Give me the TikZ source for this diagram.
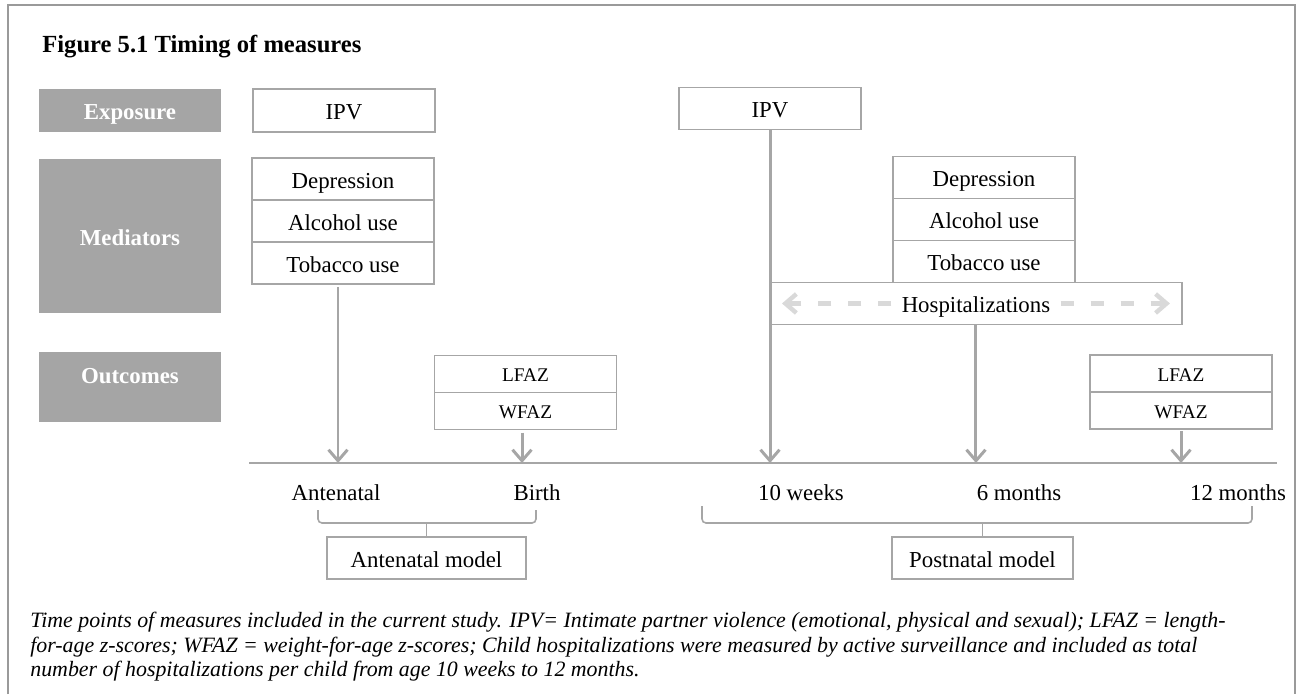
\documentclass[tikz,border=0pt]{standalone}
\usepackage{fontspec}
\setmainfont{Liberation Serif}
\usetikzlibrary{arrows.meta, positioning}
\definecolor{lblgray}{HTML}{A5A5A5}
\definecolor{lngray}{HTML}{A6A6A6}
\definecolor{dshgray}{HTML}{D9D9D9}
\definecolor{frmgray}{HTML}{9A9A9A}

\begin{document}
\begin{tikzpicture}[
  x=0.02cm, y=-0.02cm,
  >={Straight Barb[length=2.2mm, width=3.8mm]},
  lbl/.style={fill=lblgray, text=white, font=\fontsize{13}{15}\selectfont\bfseries,
    minimum width=3.64cm, inner sep=0pt, text height=12pt, text depth=1.7pt},
  mbox/.style={draw=lngray, line width=0.9pt, fill=white, minimum width=3.64cm,
    minimum height=0.84cm, inner sep=0pt, outer sep=0pt, font=\fontsize{13}{15}\selectfont,
    text height=12pt, text depth=1.7pt},
  zbox/.style={mbox, minimum height=0.74cm, font=\fontsize{11}{13}\selectfont,
    text height=10.5pt, text depth=1.5pt},
  tick/.style={font=\fontsize{13}{15}\selectfont, text height=12pt, text depth=1.7pt},
  arr/.style={->, lngray, line width=1.7pt},
  dsh/.style={->, dshgray, line width=2.5pt, dash pattern=on 0.26cm off 0.34cm},
  brc/.style={lngray, line width=0.9pt, rounded corners=0.08cm},
]

\useasboundingbox (0,0) rectangle (1297,694);

% Frame (open at the bottom)
\draw[frmgray, line width=1.2pt] (8,694) -- (8,5) -- (1295,5) -- (1295,694);

% Title
\node[anchor=base west, inner sep=0pt, font=\fontsize{14}{17}\selectfont\bfseries] (title) at (42,52)
  {Figure 5.1 Timing of measures};

% === Row labels ===
\node[lbl, minimum height=0.86cm] (expo) at (130,110.5) {Exposure};
\node[lbl, minimum height=3.08cm] (medi) at (130,236) {Mediators};
\node[lbl, minimum height=1.40cm, align=center, text height=, text depth=] (outc) at (130,387)
  {Outcomes\\[-2pt]\mbox{}};

% === Antenatal measures ===
\node[mbox, minimum height=0.86cm] (ipv1) at (344,110.5) {IPV};
\node[mbox] (dep1) at (343,179) {Depression};
\node[mbox, below=0pt of dep1] (alc1) {Alcohol use};
\node[mbox, below=0pt of alc1] (tob1) {Tobacco use};
\node[zbox] (lfaz1) at (525.5,374) {LFAZ};
\node[zbox, below=0pt of lfaz1] (wfaz1) {WFAZ};

% === Postnatal measures ===
\node[mbox] (ipv2) at (770,108.5) {IPV};
\node[mbox] (dep2) at (984,177.5) {Depression};
\node[mbox, below=0pt of dep2] (alc2) {Alcohol use};
\node[mbox, below=0pt of alc2] (tob2) {Tobacco use};
\node[mbox, minimum width=8.24cm, anchor=north west] (hosp) at (tob2.south -| ipv2.center) {};
\node[inner sep=0.2cm, font=\fontsize{13}{15}\selectfont, text height=12pt, text depth=1.7pt]
  (hlab) at (hosp.center) {Hospitalizations};
\node[zbox] (lfaz2) at (1181,373.5) {LFAZ};
\node[zbox, below=0pt of lfaz2] (wfaz2) {WFAZ};

% Hospitalizations span
\draw[dsh] (hlab.west) -- ([xshift=0.24cm]hosp.west);
\draw[dsh] (hlab.east) -- ([xshift=-0.24cm]hosp.east);

% === Timeline ===
\coordinate (tl0) at (249,463);
\coordinate (tl1) at (1277,463);
\draw[lngray, line width=1.1pt] (tl0) -- (tl1);

\coordinate (p0) at (338,463);
\coordinate (p1) at (522,463);
\coordinate (p2) at (ipv2.south |- tl0);
\coordinate (p3) at (hosp.south |- tl0);
\coordinate (p4) at (wfaz2.south |- tl0);

\draw[arr, shorten <=0.06cm] (tob1.south -| p0) -- (p0);
\draw[arr, shorten <=0.06cm] (wfaz1.south -| p1) -- (p1);
\draw[arr] (ipv2.south) -- (p2);
\draw[arr] (hosp.south) -- (p3);
\draw[arr, shorten <=0.04cm] (wfaz2.south) -- (p4);

\node[tick] (tant) at (336,491) {Antenatal};
\node[tick] (tbir) at (537,491) {Birth};
\node[tick] (t10w) at (801,491) {10 weeks};
\node[tick] (t6m) at (1019,491) {6 months};
\node[tick] (t12m) at (1238,491) {12 months};

% === Models ===
\node[mbox, minimum width=3.98cm] (amod) at (426.5,558) {Antenatal model};
\node[mbox, minimum width=3.62cm] (pmod) at (982.5,558) {Postnatal model};

\coordinate (bra) at (318,523);
\coordinate (brp) at (702,523);
\draw[brc] (318,510) -- (bra) -- (536,523) -- (536,510);
\draw[brc] (amod.north) -- (amod.north |- bra);
\draw[brc] (702,506) -- (brp) -- (1252,523) -- (1252,506);
\draw[brc] (pmod.north) -- (pmod.north |- brp);

% Caption
\node[anchor=north west, align=left, inner sep=0pt,
  font=\fontsize{12.45}{14}\selectfont\itshape] (capt) at (30,612)
  {Time points of measures included in the current study. IPV= Intimate partner violence (emotional, physical and sexual); LFAZ = length-\\
   for-age z-scores; WFAZ = weight-for-age z-scores; Child hospitalizations were measured by active surveillance and included as total\\
   number of hospitalizations per child from age 10 weeks to 12 months.};

\end{tikzpicture}
\end{document}
